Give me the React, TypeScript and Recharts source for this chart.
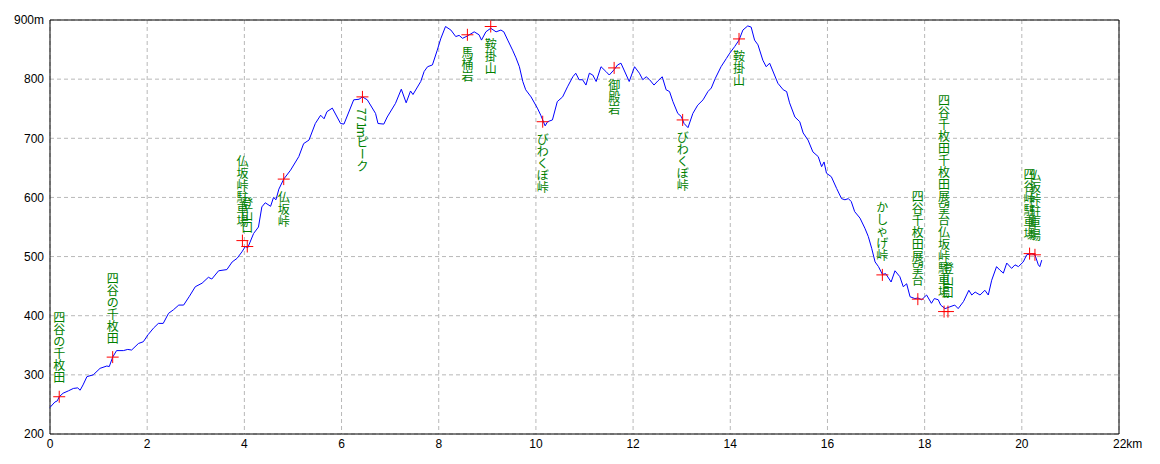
import React from 'react';
import { ComposedChart, Line, Scatter, XAxis, YAxis, CartesianGrid, ReferenceArea } from 'recharts';

// elevation profile (distance km / elevation m)
const KM = [
  0.0, 0.1, 0.15, 0.19, 0.27, 0.38, 0.48, 0.57, 0.62, 0.68, 0.76, 0.89, 1.03, 1.17, 1.22, 1.29, 1.37, 1.51, 1.6, 1.68,
  1.82, 1.92, 2.02, 2.13, 2.23, 2.33, 2.44, 2.54, 2.65, 2.75, 2.87, 2.99, 3.13, 3.26, 3.33, 3.47, 3.64, 3.75, 3.85, 3.95,
  4.02, 4.07, 4.19, 4.29, 4.36, 4.43, 4.54, 4.6, 4.65, 4.71, 4.81, 4.95, 5.12, 5.22, 5.33, 5.46, 5.57, 5.64, 5.7, 5.81,
  5.98, 6.05, 6.25, 6.36, 6.43, 6.53, 6.7, 6.75, 6.87, 6.94, 7.11, 7.23, 7.33, 7.42, 7.47, 7.63, 7.7, 7.77, 7.87, 7.97,
  8.04, 8.14, 8.25, 8.35, 8.42, 8.49, 8.59, 8.73, 8.83, 8.88, 8.97, 9.07, 9.18, 9.28, 9.34, 9.42, 9.52, 9.59, 9.66, 9.73,
  9.79, 9.9, 10.03, 10.1, 10.19, 10.24, 10.34, 10.44, 10.55, 10.65, 10.76, 10.82, 10.89, 10.96, 11.03, 11.1, 11.17, 11.24, 11.34, 11.44,
  11.51, 11.61, 11.68, 11.75, 11.86, 11.92, 12.03, 12.13, 12.2, 12.27, 12.34, 12.43, 12.51, 12.6, 12.68, 12.75, 12.82, 12.92, 12.99, 13.05,
  13.13, 13.23, 13.33, 13.44, 13.54, 13.61, 13.69, 13.81, 13.92, 13.99, 14.09, 14.18, 14.26, 14.36, 14.43, 14.5, 14.57, 14.67, 14.74, 14.81,
  14.91, 14.98, 15.09, 15.16, 15.22, 15.33, 15.43, 15.5, 15.6, 15.7, 15.81, 15.88, 15.93, 15.98, 16.08, 16.19, 16.29, 16.36, 16.43, 16.49,
  16.56, 16.67, 16.77, 16.84, 16.91, 16.98, 17.05, 17.13, 17.2, 17.31, 17.39, 17.49, 17.56, 17.63, 17.7, 17.8, 17.86, 17.94, 18.04, 18.14,
  18.2, 18.28, 18.33, 18.42, 18.52, 18.62, 18.69, 18.8, 18.91, 18.97, 19.04, 19.14, 19.24, 19.31, 19.38, 19.48, 19.55, 19.62, 19.69, 19.79,
  19.86, 19.93, 20.03, 20.1, 20.2, 20.27, 20.34, 20.37, 20.41,
];
const ELEV = [
  245, 254, 256, 263, 269, 273, 277, 278, 274, 283, 297, 300, 311, 315, 314, 330, 341, 341, 343, 342,
  353, 356, 368, 379, 387, 387, 404, 410, 418, 418, 433, 449, 455, 465, 462, 476, 478, 491, 497, 508,
  517, 515, 539, 550, 584, 591, 585, 600, 596, 614, 631, 646, 669, 691, 697, 725, 739, 733, 745, 751,
  725, 724, 765, 766, 770, 765, 742, 725, 724, 736, 759, 783, 760, 780, 774, 796, 813, 821, 824, 849,
  868, 889, 883, 872, 874, 869, 873, 880, 875, 866, 880, 886, 880, 883, 880, 866, 849, 836, 821, 796,
  782, 770, 751, 739, 721, 728, 731, 762, 770, 787, 804, 810, 799, 799, 790, 810, 807, 796, 821, 813,
  807, 816, 824, 827, 807, 796, 821, 810, 799, 804, 799, 790, 797, 804, 782, 779, 762, 742, 737, 725,
  718, 742, 756, 765, 779, 785, 801, 821, 835, 844, 855, 866, 883, 890, 888, 866, 858, 832, 821, 827,
  807, 793, 782, 779, 760, 736, 728, 709, 697, 677, 669, 652, 660, 641, 635, 615, 598, 596, 598, 593,
  576, 565, 548, 534, 514, 491, 483, 470, 471, 457, 476, 466, 449, 454, 432, 429, 430, 427, 435, 421,
  429, 427, 418, 412, 415, 418, 412, 424, 443, 435, 440, 435, 443, 435, 460, 483, 477, 472, 489, 480,
  486, 483, 491, 503, 505, 503, 486, 483, 494,
];

// waypoints
const WP_KM = [0.19, 1.29, 3.96, 4.06, 4.81, 6.43, 8.59, 9.07, 10.14, 11.61, 13.02, 14.18, 17.13, 17.86, 18.4, 18.48, 20.16, 20.27];
const WP_ELEV = [263, 330, 527, 517, 631, 770, 875, 889, 728, 819, 731, 868, 469, 428, 407, 407, 505, 503];
const WP_NAME = [
  '四谷の千枚田', '四谷の千枚田', '仏坂峠駐車場', '登山口', '仏坂峠', '771mピーク', '馬桶岩', '鞍掛山',
  'びわくぼ峠', '御殿岩', 'びわくぼ峠', '鞍掛山', 'かしゃげ峠', '四谷千枚田展望台',
  '四谷千枚田千枚田展望台仏坂峠駐車場', '登山口', '四谷峠駐車場', '仏坂峠駐車場',
];
const WP_SIDE = ['up', 'up', 'up', 'up', 'down', 'down', 'down', 'down', 'down', 'down', 'down', 'down', 'up', 'up', 'up', 'up', 'up', 'up'];

const X_TICKS = [0, 2, 4, 6, 8, 10, 12, 14, 16, 18, 20, 22];
const Y_TICKS = [200, 300, 400, 500, 600, 700, 800, 900];

const profile = KM.map((km, i) => ({ km, m: ELEV[i] }));
const waypoints = WP_KM.map((km, i) => ({ km, m: WP_ELEV[i], name: WP_NAME[i], side: WP_SIDE[i] }));

function VLabel({ x, y, text, side }: { x: number; y: number; text: string; side: string }) {
  const chars = Array.from(text);
  const adv = (c: string) => (/[\x20-\x7e]/.test(c) ? 7 : 12);
  const total = chars.reduce((s, c) => s + adv(c), 0);
  let top = side === 'up' ? y - 14 - total : y + 11;
  return (
    <g fill="#008000" fontSize={12} fontFamily="'Noto Sans CJK JP', sans-serif">
      {chars.map((c, i) => {
        const a = adv(c);
        const cy = top + a / 2;
        top += a;
        const rot = a === 7 || c === 'ー';
        return (
          <text key={i} x={x} y={cy} textAnchor="middle" dominantBaseline="central"
            transform={rot ? `rotate(90 ${x} ${cy})` : undefined}>
            {c}
          </text>
        );
      })}
    </g>
  );
}

function Waypoint(props: any) {
  const { cx, cy, payload } = props;
  if (cx == null || cy == null) return null;
  return (
    <g>
      <line x1={cx - 6} y1={cy} x2={cx + 6} y2={cy} stroke="#ff0000" />
      <line x1={cx} y1={cy - 6} x2={cx} y2={cy + 6} stroke="#ff0000" />
      <VLabel x={cx} y={cy} text={payload.name} side={payload.side} />
    </g>
  );
}

function KmTick(props: any) {
  const { x, payload } = props;
  const v = payload.value;
  return (
    <text x={v === 22 ? x - 6 : x} y={448} textAnchor={v === 22 ? 'start' : 'middle'} fontSize={12}
      fontFamily="'Liberation Sans', Arial, sans-serif" fill="#000">
      {v === 22 ? '22km' : v}
    </text>
  );
}

export default function App() {
  return (
    <div style={{ position: 'absolute', left: 0, top: 0, width: 1160, height: 464, background: '#fff' }}>
      <ComposedChart width={1160} height={464} data={profile} margin={{ top: 20, right: 41, bottom: 0, left: 0 }}>
        <CartesianGrid stroke="#b8b8b8" strokeDasharray="4 3" />
        <XAxis
          dataKey="km"
          type="number"
          domain={[0, 22]}
          ticks={X_TICKS}
          height={30}
          axisLine={false}
          tickLine={false}
          tickSize={0}
          tick={<KmTick />}
          interval={0}
        />
        <YAxis
          type="number"
          domain={[200, 900]}
          ticks={Y_TICKS}
          width={50}
          axisLine={false}
          tickLine={false}
          tickSize={0}
          tickMargin={6}
          interval={0}
          tickFormatter={(v) => (v === 900 ? '900m' : String(v))}
          tick={{ fontSize: 12, fill: '#000', fontFamily: "'Liberation Sans', Arial, sans-serif" }}
        />
        <ReferenceArea x1={0} x2={22} y1={200} y2={900} fill="none" stroke="#000" strokeWidth={1} />
        <Line type="linear" dataKey="m" stroke="#0000ff" strokeWidth={1} dot={false} activeDot={false} isAnimationActive={false} />
        <Scatter data={waypoints} dataKey="m" shape={<Waypoint />} isAnimationActive={false} />
      </ComposedChart>
    </div>
  );
}
